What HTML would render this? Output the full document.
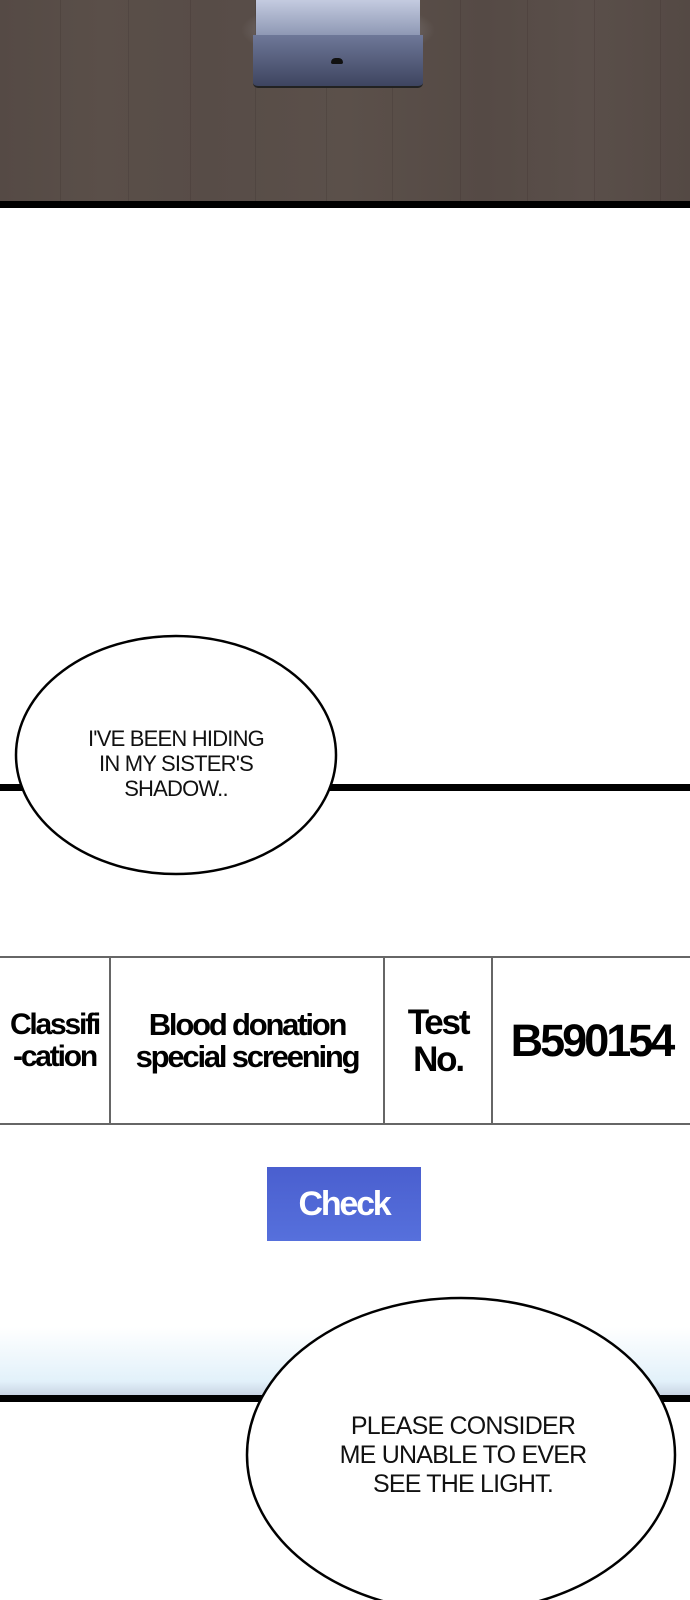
<!DOCTYPE html>
<html><head><style>
html,body{margin:0;padding:0;}
body{width:690px;height:1600px;position:relative;overflow:hidden;background:#fff;font-family:"Liberation Sans",sans-serif;}
.a{position:absolute;}
.floor{left:0;top:0;width:690px;height:201px;background:linear-gradient(90deg,#554a45 0%,#5a4f49 15%,#574c47 30%,#5b504a 50%,#554a45 70%,#5a4f4a 85%,#544944 100%);}
.plank{top:0;height:201px;width:1px;background:rgba(40,30,28,.15);}
.bar{left:0;width:690px;background:#000;}
.bub{text-align:center;font-size:22px;line-height:25px;letter-spacing:-0.8px;color:#111;}
.cell{display:flex;align-items:center;justify-content:center;text-align:center;font-weight:bold;color:#000;letter-spacing:-2.2px;}
.vl{width:2px;top:956px;height:169px;background:#666;}
</style></head><body>
<div class="a floor"></div>
<div class="a plank" style="left:60px"></div>
<div class="a plank" style="left:128px"></div>
<div class="a plank" style="left:190px"></div>
<div class="a plank" style="left:255px"></div>
<div class="a plank" style="left:326px"></div>
<div class="a plank" style="left:392px"></div>
<div class="a plank" style="left:460px"></div>
<div class="a plank" style="left:527px"></div>
<div class="a plank" style="left:594px"></div>
<div class="a plank" style="left:660px"></div>
<div class="a" style="left:240px;top:0;width:196px;height:60px;background:radial-gradient(ellipse at center,rgba(220,225,240,.6),rgba(90,80,75,0) 70%);"></div>
<div class="a" style="left:256px;top:0;width:164px;height:36px;background:linear-gradient(#c4cbe0,#8d97b3);"></div>
<div class="a" style="left:253px;top:35px;width:170px;height:51px;background:linear-gradient(#6e7898,#3e4560);border-radius:0 0 5px 5px;border-bottom:2px solid #222;"></div>
<div class="a" style="left:331px;top:58px;width:12px;height:6px;background:#111;border-radius:5px 5px 2px 2px;"></div>
<div class="a bar" style="top:201px;height:7px;"></div>

<div class="a bar" style="top:784px;height:7px;"></div>
<svg class="a" style="left:0;top:0" width="690" height="1600">
<ellipse cx="176" cy="755" rx="160" ry="119" fill="#fff" stroke="#000" stroke-width="2.5"/>
</svg>
<div class="a bub" style="left:56px;top:726px;width:240px;">I'VE BEEN HIDING<br>IN MY SISTER'S<br>SHADOW..</div>

<div class="a" style="left:0;top:956px;width:690px;height:2px;background:#666;"></div>
<div class="a" style="left:0;top:1123px;width:690px;height:2px;background:#666;"></div>
<div class="a vl" style="left:109px"></div>
<div class="a vl" style="left:383px"></div>
<div class="a vl" style="left:491px"></div>
<div class="a cell" style="left:0;top:958px;width:109px;height:165px;font-size:30px;line-height:32px;">Classifi<br>-cation</div>
<div class="a cell" style="left:111px;top:958px;width:272px;height:165px;font-size:31px;line-height:32px;">Blood donation<br>special screening</div>
<div class="a cell" style="left:385px;top:958px;width:106px;height:165px;font-size:35px;line-height:37px;">Test<br>No.</div>
<div class="a cell" style="left:493px;top:958px;width:197px;height:165px;font-size:45px;letter-spacing:-3px;">B590154</div>

<div class="a cell" style="left:267px;top:1167px;width:154px;height:74px;background:linear-gradient(#4a5fcf,#5670dc);color:#fff;font-size:34px;">Check</div>

<div class="a" style="left:0;top:1327px;width:690px;height:68px;background:linear-gradient(#fff,#e2f1fa 80%,#c9d4e3);"></div>
<div class="a bar" style="top:1395px;height:7px;"></div>
<svg class="a" style="left:0;top:0" width="690" height="1600">
<ellipse cx="461" cy="1455" rx="214" ry="157" fill="#fff" stroke="#000" stroke-width="2.5"/>
</svg>
<div class="a bub" style="left:308px;top:1412px;width:310px;font-size:25px;line-height:29px;">PLEASE CONSIDER<br>ME UNABLE TO EVER<br>SEE THE LIGHT.</div>
</body></html>
